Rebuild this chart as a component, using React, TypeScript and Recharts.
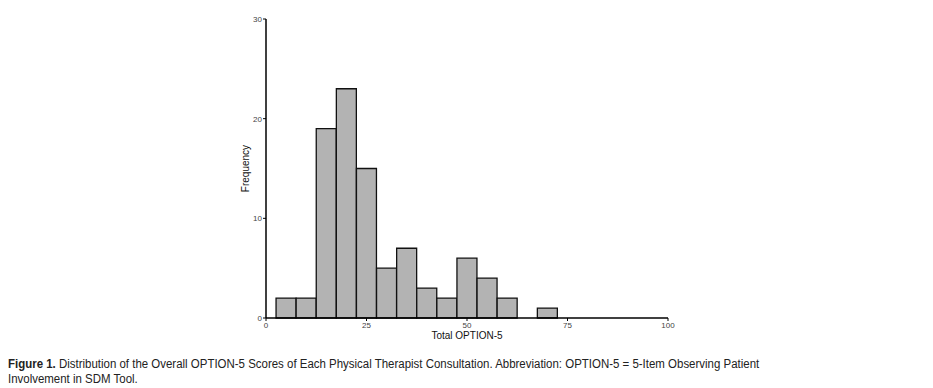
import { BarChart, Bar, XAxis, YAxis, Label } from "recharts";

// bin centres (bin width 5) and counts
const binMids = [5, 10, 15, 20, 25, 30, 35, 40, 45, 50, 55, 60, 65, 70];
const counts = [2, 2, 19, 23, 15, 5, 7, 3, 2, 6, 4, 2, 0, 1];
const xTicks = [0, 25, 50, 75, 100];
const yTicks = [0, 10, 20, 30];

const data = binMids.map((mid, i) => ({ mid, count: counts[i] }));

const font = "'Liberation Sans', Arial, sans-serif";
const tickStyle = { fontSize: 8, fill: "#444", fontFamily: font };

export default function App() {
  return (
    <div style={{ position: "absolute", left: 0, top: 0, width: 933, height: 388, background: "#fff" }}>
      <BarChart
        width={933}
        height={345}
        data={data}
        barCategoryGap={0}
        barGap={0}
        margin={{ top: 19, right: 265, left: 236, bottom: 3 }}
      >
        <XAxis
          dataKey="mid"
          type="number"
          domain={[0, 100]}
          ticks={xTicks}
          allowDataOverflow
          height={24}
          tick={tickStyle}
          tickSize={3}
          tickMargin={1}
          axisLine={{ stroke: "#000", strokeWidth: 1.5 }}
          tickLine={{ stroke: "#000" }}
        >
          <Label
            value="Total OPTION-5"
            position="insideBottom"
            offset={3}
            style={{ fontSize: 10, fill: "#111", fontFamily: font }}
          />
        </XAxis>
        <YAxis
          domain={[0, 30]}
          ticks={yTicks}
          width={30}
          tick={tickStyle}
          tickSize={3}
          tickMargin={1}
          axisLine={{ stroke: "#000", strokeWidth: 1.5 }}
          tickLine={{ stroke: "#000" }}
        >
          <Label
            value="Frequency"
            angle={-90}
            position="insideLeft"
            offset={9}
            style={{ fontSize: 10, fill: "#111", textAnchor: "middle", fontFamily: font }}
          />
        </YAxis>
        <Bar dataKey="count" fill="#b3b3b3" stroke="#111" strokeWidth={1.3} isAnimationActive={false} />
      </BarChart>
      <div
        style={{
          position: "absolute",
          left: 8,
          top: 357,
          whiteSpace: "nowrap",
          fontFamily: font,
          fontSize: 12.5,
          lineHeight: "15px",
          color: "#222",
          transform: "scaleX(0.917)",
          transformOrigin: "0 0",
        }}
      >
        <div>
          <b>Figure 1.</b> Distribution of the Overall OPTION-5 Scores of Each Physical Therapist Consultation. Abbreviation:
          OPTION-5 = 5-Item Observing Patient
        </div>
        <div>Involvement in SDM Tool.</div>
      </div>
    </div>
  );
}
